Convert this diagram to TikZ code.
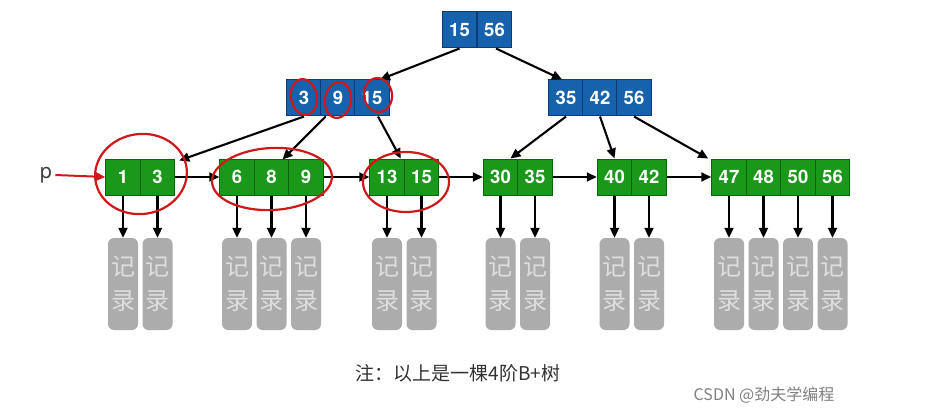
\documentclass[tikz,border=0pt]{standalone}
\usepackage{fontspec}
\setmainfont{TeX Gyre Heros}
\newfontfamily\cjk{Noto Sans CJK SC}
\usetikzlibrary{arrows.meta}
\definecolor{bfill}{RGB}{22,98,172}
\definecolor{bline}{RGB}{12,60,120}
\definecolor{gfill}{RGB}{26,152,26}
\definecolor{gline}{RGB}{10,100,10}
\definecolor{recfill}{RGB}{172,172,172}
\definecolor{rectext}{RGB}{222,222,222}
\definecolor{annot}{RGB}{205,25,25}
\tikzset{
  cellbase/.style={rectangle, minimum width=34.5pt, minimum height=36pt, inner sep=0pt, text=white, font=\bfseries\fontsize{18.5}{18.5}\selectfont, line width=1pt},
  cellB/.style={cellbase, fill=bfill, draw=bline},
  cellG/.style={cellbase, fill=gfill, draw=gline},
  rec/.style={rectangle, rounded corners=6pt, fill=recfill, minimum width=30pt, minimum height=92pt, inner sep=0pt, text=rectext, align=center, font=\cjk\fontsize{24}{34}\selectfont},
  arr/.style={-{Triangle[length=10pt,width=9pt]}, line width=2.1pt, black},
  ring/.style={draw=annot, line width=2.2pt},
}
\begin{document}
\begin{tikzpicture}[x=1pt,y=-1pt]
\useasboundingbox[fill=white] (0,0) rectangle (930,412);
% root
\node[cellB] (R1) at (459.5,30) {15};
\node[cellB] (R2) at (494.5,30) {56};
% level 2
\node[cellB] (M1) at (304,98) {3};
\node[cellB] (M2) at (338,98) {9};
\node[cellB] (M3) at (372,98) {15};
\node[cellB] (N1) at (566,98) {35};
\node[cellB] (N2) at (600,98) {42};
\node[cellB] (N3) at (634,98) {56};
% leaves
\foreach \n/\x/\t in {L1a/123/1, L1b/157.5/3,
  L2a/237/6, L2b/271.5/8, L2c/306/9,
  L3a/387/13, L3b/421.5/15,
  L4a/500.5/30, L4b/535/35,
  L5a/614.5/40, L5b/649/42,
  L6a/729/47, L6b/763.5/48, L6c/798/50, L6d/832.5/56}{
  \node[cellG] (\n) at (\x,177) {\t};
  \node[rec] (\n r) at (\x,284) {记\\录};
  \draw[arr] (\n.south) -- (\n r.north);
}
% tree arrows
\draw[arr] (R1.south) -- ([xshift=8pt]M3.north);
\draw[arr] ([xshift=1.5pt]R2.south) -- ([xshift=-4pt]N1.north);
\draw[arr] (M1.south) -- ([xshift=4pt,yshift=-2pt]L1b.north east);
\draw[arr] ([xshift=4pt]M1.south east) -- ([xshift=11pt,yshift=-1pt]L2b.north);
\draw[arr] ([xshift=6pt]M3.south) -- ([xshift=-4pt]L3a.north east);
\draw[arr] (N1.south) -- ([xshift=10pt]L4a.north);
\draw[arr] (N2.south) -- (L5a.north);
\draw[arr] (N3.south) -- ([xshift=-3pt]L6a.north west);
% leaf chain
\draw[arr] (L1b.east) -- (L2a.west);
\draw[arr] (L2c.east) -- (L3a.west);
\draw[arr] (L3b.east) -- (L4a.west);
\draw[arr] (L4b.east) -- (L5a.west);
\draw[arr] (L5b.east) -- (L6a.west);
% pointer p
\node[font=\fontsize{21}{21}\selectfont, text=black!75, anchor=center] (p) at (46,175) {p};
\draw[-{Triangle[length=10pt,width=9pt]}, line width=2pt, annot] (p.east) -- (L1a.west);
% annotations
\draw[ring, rotate around={10:(304,97)}] (304,97) ellipse (13pt and 18pt);
\draw[ring, rotate around={-8:(338,100)}] (338,100) ellipse (13pt and 18pt);
\draw[ring, rotate around={8:(378,95)}] (378,95) ellipse (14pt and 17pt);
\draw[ring, rotate around={8:(141,174)}] (141,174) ellipse (46pt and 40pt);
\draw[ring, rotate around={3:(272,179)}] (272,179) ellipse (60pt and 31pt);
\draw[ring] (406,182) ellipse (43pt and 30pt);
% captions
\node[font=\cjk\fontsize{19}{19}\selectfont, text=black!80] (cap) at (458,373) {注：以上是一棵4阶B+树};
\node[font=\cjk\fontsize{16}{16}\selectfont, text=black!50] (wm) at (764,395) {CSDN @劲夫学编程};
\end{tikzpicture}
\end{document}
